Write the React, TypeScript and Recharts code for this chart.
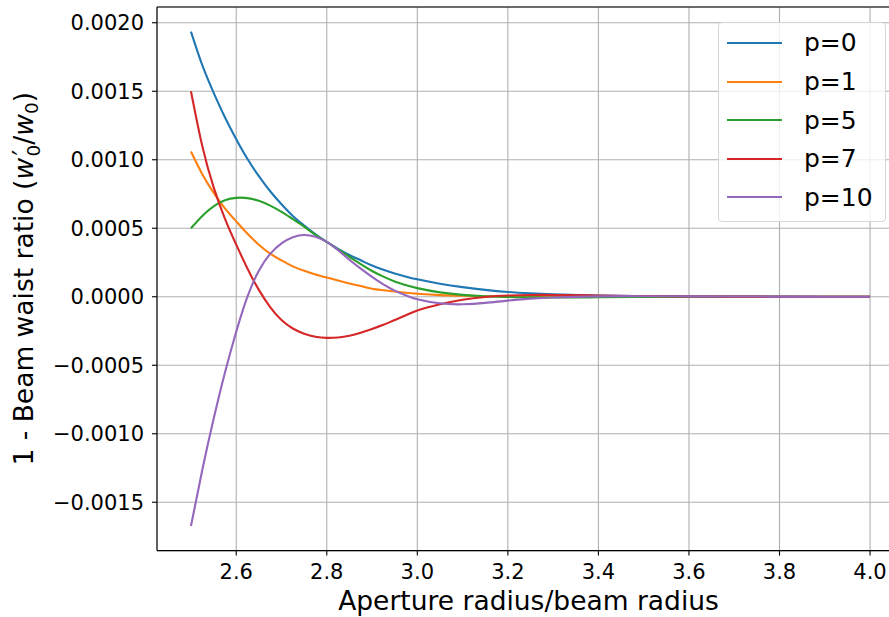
import React from 'react';
import { LineChart, Line, XAxis, YAxis, CartesianGrid, Legend, ReferenceLine } from 'recharts';

// Aperture radius / beam radius
const apertureRatio = [
  2.5, 2.525, 2.55, 2.575, 2.6, 2.625, 2.65, 2.675, 2.7, 2.725, 2.75, 2.775, 2.8, 2.825, 2.85, 2.875,
  2.9, 2.925, 2.95, 2.975, 3.0, 3.05, 3.1, 3.15, 3.2, 3.25, 3.3, 3.4, 3.5, 3.6, 3.7, 3.8, 3.9, 4.0,
];

// 1 - beam waist ratio for each mode order p
const p0Values = [
  1.935e-3, 1.69e-3, 1.49e-3, 1.31e-3, 1.15e-3, 1.005e-3, 0.88e-3, 0.77e-3, 0.675e-3, 0.59e-3, 0.52e-3, 0.455e-3,
  0.40e-3, 0.35e-3, 0.305e-3, 0.266e-3, 0.228e-3, 0.197e-3, 0.17e-3, 0.147e-3, 0.127e-3, 0.095e-3, 0.07e-3,
  0.05e-3, 0.035e-3, 0.025e-3, 0.018e-3, 0.009e-3, 0.005e-3, 0.0028e-3, 0.0015e-3, 0.0008e-3, 0.0004e-3, 0.0002e-3,
];
const p1Values = [
  1.06e-3, 0.895e-3, 0.76e-3, 0.645e-3, 0.55e-3, 0.46e-3, 0.38e-3, 0.315e-3, 0.265e-3, 0.222e-3, 0.19e-3, 0.163e-3,
  0.14e-3, 0.118e-3, 0.097e-3, 0.078e-3, 0.059e-3, 0.048e-3, 0.038e-3, 0.029e-3, 0.022e-3, 0.012e-3, 0.007e-3,
  0.004e-3, 0.002e-3, 0.001e-3, 0.0005e-3, 0.0002e-3, 0, 0, 0, 0, 0, 0,
];
const p5Values = [
  0.50e-3, 0.59e-3, 0.66e-3, 0.705e-3, 0.722e-3, 0.72e-3, 0.70e-3, 0.665e-3, 0.62e-3, 0.567e-3, 0.512e-3, 0.452e-3,
  0.40e-3, 0.345e-3, 0.292e-3, 0.238e-3, 0.188e-3, 0.147e-3, 0.112e-3, 0.085e-3, 0.063e-3, 0.032e-3, 0.014e-3,
  0.004e-3, -0.002e-3, -0.004e-3, -0.005e-3, -0.004e-3, -0.002e-3, -0.001e-3, -0.0005e-3, 0, 0, 0,
];
const p7Values = [
  1.50e-3, 1.10e-3, 0.80e-3, 0.57e-3, 0.38e-3, 0.205e-3, 0.05e-3, -0.075e-3, -0.17e-3, -0.232e-3, -0.27e-3, -0.292e-3,
  -0.30e-3, -0.297e-3, -0.284e-3, -0.262e-3, -0.235e-3, -0.205e-3, -0.17e-3, -0.135e-3, -0.10e-3, -0.055e-3, -0.022e-3,
  -0.002e-3, 0.009e-3, 0.013e-3, 0.013e-3, 0.009e-3, 0.005e-3, 0.002e-3, 0.001e-3, 0.0003e-3, 0, 0,
];
const p10Values = [
  -1.673e-3, -1.265e-3, -0.893e-3, -0.555e-3, -0.255e-3, 0.003e-3, 0.19e-3, 0.313e-3, 0.39e-3, 0.435e-3, 0.451e-3, 0.438e-3,
  0.40e-3, 0.34e-3, 0.27e-3, 0.205e-3, 0.145e-3, 0.09e-3, 0.045e-3, 0.01e-3, -0.018e-3, -0.048e-3, -0.055e-3,
  -0.045e-3, -0.028e-3, -0.014e-3, -0.005e-3, 0.003e-3, 0.004e-3, 0.003e-3, 0.002e-3, 0.001e-3, 0.0005e-3, 0,
];

const xTicks = [2.6, 2.8, 3.0, 3.2, 3.4, 3.6, 3.8, 4.0];
const yTicks = [-0.0015, -0.001, -0.0005, 0, 0.0005, 0.001, 0.0015, 0.002];
const xDomain: [number, number] = [2.425, 4.075];
const yDomain: [number, number] = [-0.001853, 0.002115];

const series = [
  { key: 'p0', name: 'p=0', color: '#1f77b4', values: p0Values },
  { key: 'p1', name: 'p=1', color: '#ff7f0e', values: p1Values },
  { key: 'p5', name: 'p=5', color: '#2ca02c', values: p5Values },
  { key: 'p7', name: 'p=7', color: '#d62728', values: p7Values },
  { key: 'p10', name: 'p=10', color: '#9467bd', values: p10Values },
];

const data = apertureRatio.map((x, i) => {
  const row: Record<string, number> = { x };
  series.forEach((s) => {
    row[s.key] = s.values[i];
  });
  return row;
});

const FONT = '"DejaVu Sans", "Liberation Sans", sans-serif';

const XTick = (props: any) => {
  const { x, y, payload } = props;
  return (
    <text x={x} y={y} dy={23} textAnchor="middle" fontFamily={FONT} fontSize={21} fill="#000">
      {Number(payload.value).toFixed(1)}
    </text>
  );
};

const YTick = (props: any) => {
  const { x, y, payload } = props;
  const v = Number(payload.value);
  const s = Math.abs(v).toFixed(4);
  const label = v < 0 ? '\u2212' + s : s;
  return (
    <text x={x} y={y} dy={7.6} textAnchor="end" fontFamily={FONT} fontSize={21} fill="#000">
      {label}
    </text>
  );
};

const XLabel = (props: any) => {
  const vb = props.viewBox || { x: 157, y: 550.6, width: 747, height: 66.4 };
  const cx = vb.x + vb.width / 2 - 2;
  return (
    <text x={cx} y={vb.y + 59.4} textAnchor="middle" fontFamily={FONT} fontSize={26.5} fill="#000">
      Aperture radius/beam radius
    </text>
  );
};

const YLabel = (props: any) => {
  const vb = props.viewBox || { x: 0, y: 7, width: 157, height: 543.6 };
  const cy = vb.y + vb.height / 2;
  return (
    <text
      transform={`translate(33, ${cy}) rotate(-90)`}
      x={0}
      y={0}
      textAnchor="middle"
      fontFamily={FONT}
      fontSize={26.5}
      fill="#000"
    >
      1 - Beam waist ratio (
      <tspan fontStyle="italic">w</tspan>
      <tspan fontSize={26} dx={2.5} dy={-1}>′</tspan>
      <tspan fontSize={18.5} dx={-7} dy={8}>0</tspan>
      <tspan dy={-7}>/</tspan>
      <tspan fontStyle="italic">w</tspan>
      <tspan fontSize={18.5} dy={5}>0</tspan>
      <tspan dy={-5}>)</tspan>
    </text>
  );
};

const renderLegend = () => (
  <div
    style={{
      width: 168,
      height: 200,
      boxSizing: 'border-box',
      border: '1px solid #d6d6d6',
      borderRadius: 4,
      background: 'rgba(255,255,255,0.8)',
      fontFamily: FONT,
      fontSize: 25,
      color: '#000',
      paddingTop: 0.7,
    }}
  >
    {series.map((s) => (
      <div key={s.key} style={{ display: 'flex', alignItems: 'center', height: 38.6 }}>
        <span style={{ display: 'inline-block', marginLeft: 8, width: 55, height: 2.1, background: s.color }} />
        <span style={{ marginLeft: 22, lineHeight: '25px', whiteSpace: 'nowrap' }}>{s.name}</span>
      </div>
    ))}
  </div>
);

export default function App() {
  return (
    <div
      style={{
        position: 'absolute',
        left: 0,
        top: 0,
        width: 889,
        height: 617,
        overflow: 'hidden',
        background: '#fff',
      }}
    >
      <LineChart width={920} height={617} data={data} margin={{ top: 7, right: 16, left: 0, bottom: 0 }}>
        <CartesianGrid stroke="#b0b0b0" strokeWidth={1.1} />
        <XAxis
          dataKey="x"
          type="number"
          domain={xDomain}
          ticks={xTicks}
          interval={0}
          allowDataOverflow
          height={66.4}
          tickSize={5}
          tickMargin={0}
          tick={<XTick />}
          axisLine={{ stroke: '#000', strokeWidth: 1.1 }}
          tickLine={{ stroke: '#000', strokeWidth: 1.1 }}
          label={<XLabel />}
        />
        <YAxis
          type="number"
          domain={yDomain}
          ticks={yTicks}
          interval={0}
          allowDataOverflow
          width={157}
          tickSize={5}
          tickMargin={8}
          tick={<YTick />}
          axisLine={{ stroke: '#000', strokeWidth: 1.1 }}
          tickLine={{ stroke: '#000', strokeWidth: 1.1 }}
          label={<YLabel />}
        />
        <ReferenceLine y={yDomain[1]} stroke="#000" strokeWidth={1.1} />
        {series.map((s) => (
          <Line
            key={s.key}
            type="natural"
            dataKey={s.key}
            name={s.name}
            stroke={s.color}
            strokeWidth={2.1}
            dot={false}
            activeDot={false}
            isAnimationActive={false}
          />
        ))}
        <Legend
          layout="vertical"
          align="center"
          verticalAlign="middle"
          wrapperStyle={{ left: 718, top: 22, width: 168, height: 200 }}
          content={renderLegend}
        />
      </LineChart>
    </div>
  );
}
